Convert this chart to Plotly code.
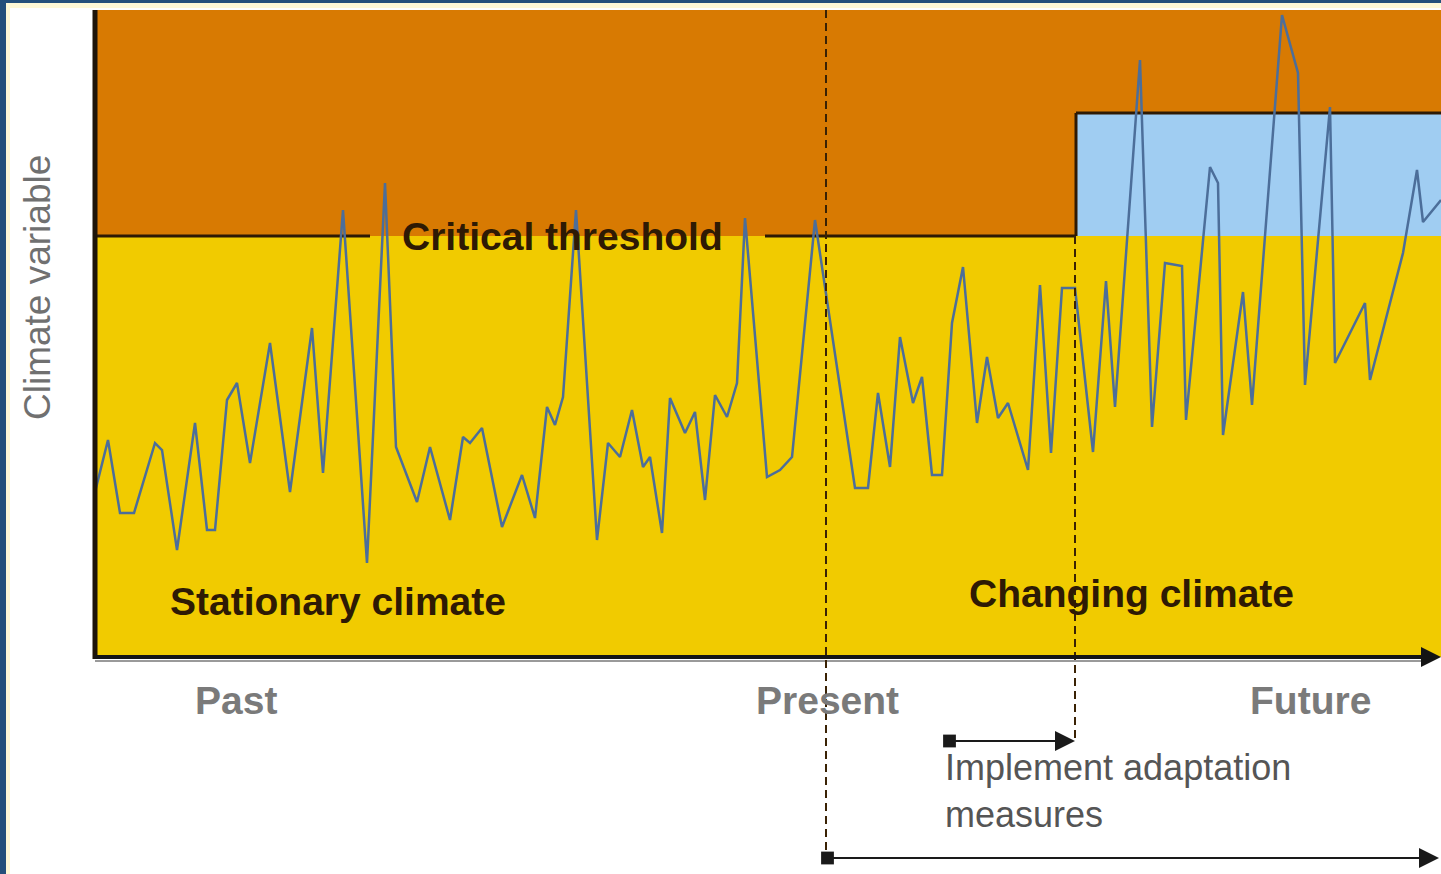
import plotly.graph_objects as go

# ---- data (time in arbitrary units, climate variable in arbitrary units) ----
time = [0, 13, 25, 39, 60, 67, 82, 100, 112, 120, 132, 142, 155, 175, 195, 217, 228,
        248, 272, 290, 301, 322, 335, 355, 368, 375, 387, 407, 427, 440, 452, 460, 468,
        481, 502, 513, 525, 537, 548, 555, 567, 575, 590, 600, 610, 620, 632, 642, 650,
        672, 685, 697, 720, 760, 773, 783, 795, 805, 818, 827, 837, 847, 857, 868, 882,
        892, 903, 913, 933, 945, 956, 967, 980, 998, 1011, 1020, 1045, 1057, 1070, 1087,
        1091, 1115, 1123, 1128, 1148, 1157, 1187, 1203, 1210, 1235, 1240, 1270, 1275,
        1308, 1322, 1328, 1346]
climate = [165, 217, 144, 144, 214, 207, 107, 234, 127, 127, 257, 274, 194, 314, 165,
           329, 184, 447, 94, 474, 210, 155, 210, 137, 220, 214, 229, 130, 182, 139, 250,
           232, 260, 447, 117, 214, 200, 247, 190, 200, 124, 259, 224, 245, 157, 262, 240,
           274, 439, 180, 187, 200, 437, 169, 169, 264, 190, 320, 254, 280, 182, 182, 334,
           390, 234, 300, 239, 254, 187, 372, 204, 369, 369, 205, 376, 250, 597, 230, 394,
           391, 237, 490, 474, 222, 365, 252, 642, 584, 272, 550, 294, 354, 277, 404, 487,
           435, 457]

THRESHOLD = 421
RAISED_THRESHOLD = 544
T_END = 1346
Y_TOP = 647
PRESENT = 731
ADAPT = 981

labels_time = ["Past", "Present", "Future"]
labels_time_x = [141, 732, 1215]

ORANGE = "#D87A02"
YELLOW = "#F1CB00"
BLUE = "#A0CDF2"
LINE = "#4C6E9A"
DARK = "#2E1A04"

fig = go.Figure()
fig.add_trace(go.Scatter(x=time, y=climate, mode="lines",
                         line=dict(color=LINE, width=2.5), hoverinfo="skip",
                         showlegend=False))

shapes = [
    # background regions
    dict(type="rect", x0=0, x1=T_END, y0=THRESHOLD, y1=Y_TOP, fillcolor=ORANGE,
         line=dict(width=0), layer="below"),
    dict(type="rect", x0=0, x1=T_END, y0=0, y1=THRESHOLD, fillcolor=YELLOW,
         line=dict(width=0), layer="below"),
    dict(type="rect", x0=ADAPT, x1=T_END, y0=THRESHOLD, y1=RAISED_THRESHOLD,
         fillcolor=BLUE, line=dict(width=0), layer="below"),
    # threshold lines
    dict(type="line", x0=0, x1=275, y0=THRESHOLD, y1=THRESHOLD,
         line=dict(color=DARK, width=3), layer="below"),
    dict(type="line", x0=670, x1=ADAPT, y0=THRESHOLD, y1=THRESHOLD,
         line=dict(color=DARK, width=3), layer="below"),
    dict(type="line", x0=ADAPT, x1=ADAPT, y0=THRESHOLD, y1=RAISED_THRESHOLD,
         line=dict(color=DARK, width=3), layer="below"),
    dict(type="line", x0=ADAPT, x1=T_END, y0=RAISED_THRESHOLD, y1=RAISED_THRESHOLD,
         line=dict(color=DARK, width=3), layer="below"),
    # left frame
    dict(type="line", x0=0, x1=0, y0=-2, y1=Y_TOP,
         line=dict(color="#1E1408", width=5)),
    # axis shadow
    dict(type="line", x0=0, x1=T_END - 10, y0=-4, y1=-4,
         line=dict(color="#9A9A9A", width=2)),
    # dashed time markers
    dict(type="line", x0=PRESENT, x1=PRESENT, y0=Y_TOP, y1=-201,
         line=dict(color="#3A2204", width=2, dash="8px,5px")),
    dict(type="line", x0=ADAPT - 1, x1=ADAPT - 1, y0=THRESHOLD, y1=-84,
         line=dict(color="#3A2204", width=2, dash="8px,5px")),
    # page border
    dict(type="rect", xref="paper", yref="paper", x0=0, x1=6 / 1441, y0=0, y1=1,
         fillcolor="#25507A", line=dict(width=0), layer="above"),
    dict(type="rect", xref="paper", yref="paper", x0=0, x1=1, y0=1 - 3 / 874, y1=1,
         fillcolor="#25507A", line=dict(width=0), layer="above"),
    dict(type="rect", xref="paper", yref="paper", x0=6 / 1441, x1=10 / 1441, y0=0,
         y1=1 - 3 / 874, fillcolor="#FFF9D6", line=dict(width=0), layer="above"),
    dict(type="rect", xref="paper", yref="paper", x0=6 / 1441, x1=1, y0=1 - 8 / 874,
         y1=1 - 3 / 874, fillcolor="#FFF9D6", line=dict(width=0), layer="above"),
]

bold = dict(family="Liberation Sans, Arial, sans-serif", size=39, color=DARK, weight="bold")
gray_bold = dict(family="Liberation Sans, Arial, sans-serif", size=39, color="#7A7A7A",
                 weight="bold")
light = dict(family="Liberation Sans, Arial, sans-serif", size=36, color="#555555")

annotations = [
    dict(x=467, y=421, text="Critical threshold", showarrow=False, font=bold),
    dict(x=243, y=56, text="Stationary climate", showarrow=False, font=bold),
    dict(x=1036, y=64, text="Changing climate", showarrow=False, font=bold),
    dict(x=848, y=-134, text="Implement adaptation<br>measures", showarrow=False,
         font=light, xanchor="left", align="left", yanchor="middle"),
    dict(x=-58, y=369, text="Climate variable", showarrow=False, textangle=-90,
         font=dict(family="Liberation Sans Narrow, Arial Narrow, Liberation Sans, sans-serif",
                   size=37, color="#707070")),
    # bottom axis arrow
    dict(x=T_END, y=0, ax=-2, ay=0, axref="x", ayref="y", xref="x", yref="y", text="",
         showarrow=True, arrowhead=2, arrowsize=1.0, arrowwidth=4, arrowcolor="#141414",
         standoff=0),
    # adaptation arrow
    dict(x=ADAPT - 1, y=-84, ax=853, ay=-84, axref="x", ayref="y", xref="x", yref="y",
         text="", showarrow=True, arrowhead=2, arrowsize=2, arrowwidth=2,
         arrowside="end+start", startarrowhead=7, startarrowsize=1.6,
         arrowcolor="#1A1A1A", standoff=0, startstandoff=0),
    # future arrow
    dict(x=T_END - 2, y=-201, ax=PRESENT, ay=-201, axref="x", ayref="y", xref="x",
         yref="y", text="", showarrow=True, arrowhead=2, arrowsize=2, arrowwidth=2,
         arrowside="end+start", startarrowhead=7, startarrowsize=1.6,
         arrowcolor="#1A1A1A", standoff=0, startstandoff=0),
]
for lab, lx in zip(labels_time, labels_time_x):
    annotations.append(dict(x=lx, y=-43, text=lab, showarrow=False, font=gray_bold))

fig.update_layout(
    width=1441, height=874,
    margin=dict(l=0, r=0, t=0, b=0),
    paper_bgcolor="#FFFFFF", plot_bgcolor="#FFFFFF",
    xaxis=dict(range=[-95, 1346], visible=False, fixedrange=True),
    yaxis=dict(range=[-217, 657], visible=False, fixedrange=True),
    shapes=shapes, annotations=annotations, showlegend=False,
)

fig.write_html("out.html", config={"displayModeBar": False},
               post_script="document.body.style.margin='0';document.body.style.overflow='hidden';")
